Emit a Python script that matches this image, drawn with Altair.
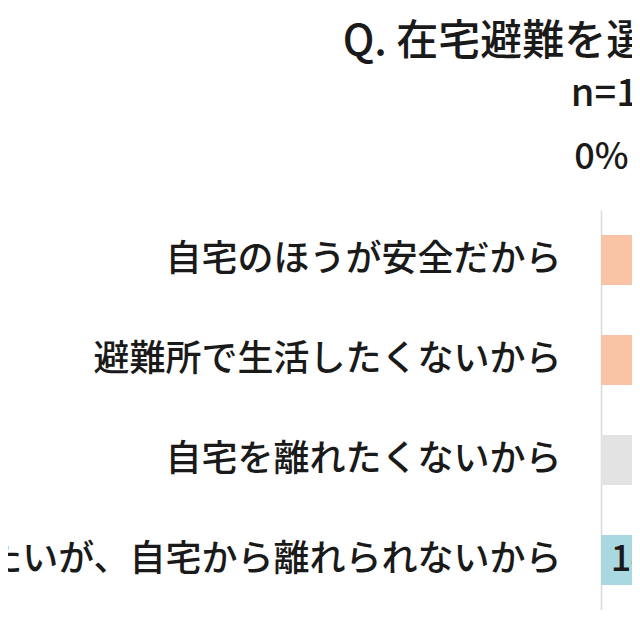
import altair as alt
import pandas as pd

categories = [
    "自宅のほうが安全だから",
    "避難所で生活したくないから",
    "自宅を離れたくないから",
    "避難所に行きたいが、自宅から離れられないから",
]
values = [58.3, 41.2, 25.6, 14.2]
bar_colors = ["#F9C3A6", "#F9C3A6", "#E3E3E3", "#A9D8E1"]
x_ticks = [0, 20, 40, 60]

title_text = "Q. 在宅避難を選択した理由は？"
subtitle_text = "n=1,000"

df = pd.DataFrame({"cat": categories, "value": values, "color": bar_colors})
df["label"] = [f"{v:.1f}%" for v in values]

FONT = "Noto Sans CJK JP"

base = alt.Chart(df).encode(
    y=alt.Y(
        "cat:N",
        sort=categories,
        scale=alt.Scale(paddingInner=0.5, paddingOuter=0.25),
        axis=alt.Axis(
            title=None,
            ticks=False,
            labelPadding=40,
            labelFontSize=36,
            labelFont=FONT,
            labelFontWeight=500,
            labelColor="#1a1a1a",
            labelLimit=2000,
            domainColor="#DADADA",
            domainWidth=1.5,
        ),
    )
)

bars = base.mark_bar(clip=True).encode(
    x=alt.X(
        "value:Q",
        scale=alt.Scale(domain=[0, 3.1]),
        axis=alt.Axis(
            orient="top",
            title=None,
            values=x_ticks,
            labelExpr="datum.value + '%'",
            labelFlush=False,
            grid=False,
            domain=False,
            ticks=False,
            labelFontSize=36,
            labelFont=FONT,
            labelFontWeight=500,
            labelColor="#1a1a1a",
            labelPadding=34,
        ),
    ),
    color=alt.Color("color:N", scale=None),
)

labels = base.transform_calculate(mid="datum.value / 2").mark_text(
    align="center", baseline="middle", fontSize=36, font=FONT, fontWeight=500,
    color="#1a1a1a", clip=True
).encode(x="mid:Q", text="label:N")

chart = (
    alt.layer(bars, labels)
    .properties(
        width=31,
        height=400,
        padding={"left": 593, "top": 202, "right": 0, "bottom": 0},
        autosize=alt.AutoSizeParams(type="none"),
        title=alt.TitleParams(
            text=title_text,
            subtitle=subtitle_text,
            anchor="middle",
            frame="group",
            dx=26,
            offset=24,
            fontSize=42,
            font=FONT,
            fontWeight=500,
            color="#1a1a1a",
            subtitleFontSize=38,
            subtitleFont=FONT,
            subtitleFontWeight=500,
            subtitleColor="#1a1a1a",
            subtitlePadding=12,
        ),
    )
    .configure_view(stroke=None)
)

chart.save("out.html", embed_options={"renderer": "svg", "actions": False})
